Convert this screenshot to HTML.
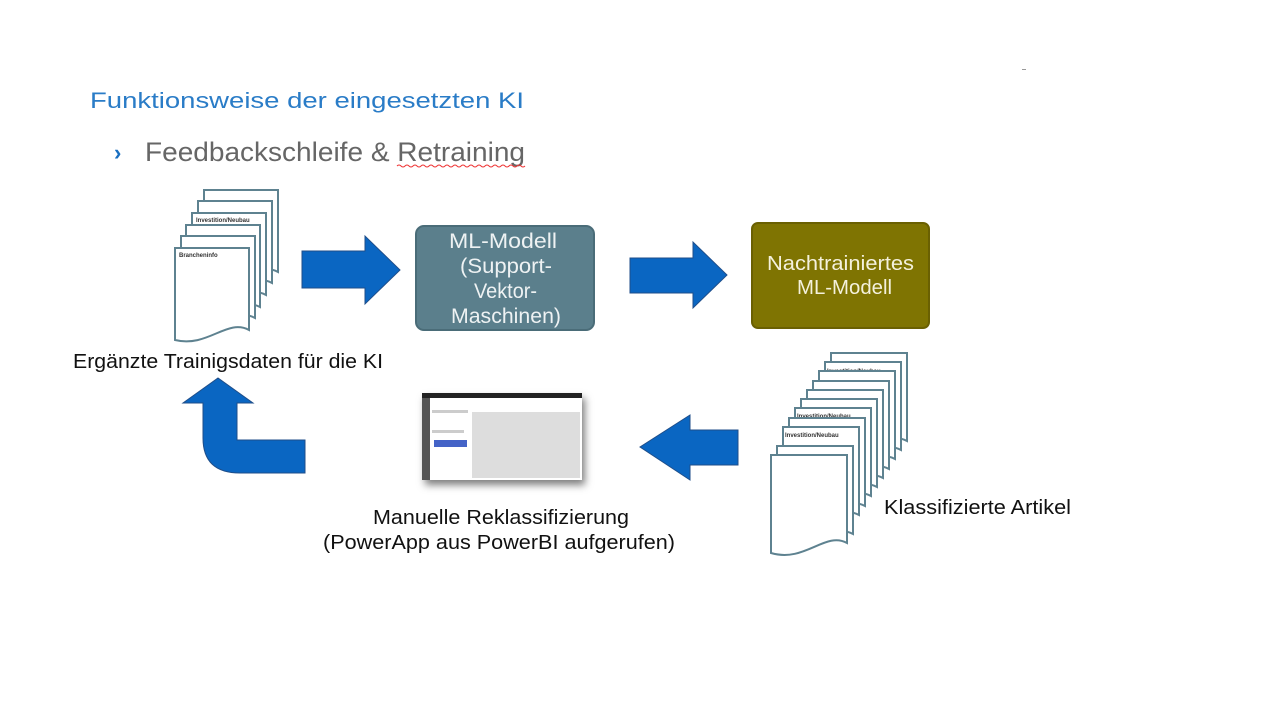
<!DOCTYPE html>
<html><head><meta charset="utf-8"><style>
html,body{margin:0;padding:0;background:#fff;}
svg{display:block;font-family:"Liberation Sans","DejaVu Sans",sans-serif;}
</style></head><body>
<svg width="1280" height="720" viewBox="0 0 1280 720" xmlns="http://www.w3.org/2000/svg">
<defs>
<path id="pgL" d="M0,0 H74 V82 C52,70 33,100 0,92 Z" fill="#fff" stroke="#5e8290" stroke-width="2"/>
<path id="pgR" d="M0,0 H76 V88 C54,76 34,108 0,98 Z" fill="#fff" stroke="#5e8290" stroke-width="2"/>
<filter id="sh" x="-10%" y="-10%" width="125%" height="130%"><feDropShadow dx="3" dy="5" stdDeviation="4" flood-color="#000" flood-opacity="0.5"/></filter>
</defs>
<text x="90" y="108" font-size="22" fill="#2a7cc7" textLength="434" lengthAdjust="spacingAndGlyphs">Funktionsweise der eingesetzten KI</text>
<text x="114" y="160" font-size="22" fill="#1a6fc0" font-weight="bold">›</text>
<text x="145" y="161" font-size="27" fill="#666" textLength="380" lengthAdjust="spacingAndGlyphs">Feedbackschleife &amp; Retraining</text>
<path d="M397,166 q2,-2 4,0 t4,0 t4,0 t4,0 t4,0 t4,0 t4,0 t4,0 t4,0 t4,0 t4,0 t4,0 t4,0 t4,0 t4,0 t4,0 t4,0 t4,0 t4,0 t4,0 t4,0 t4,0 t4,0 t4,0 t4,0 t4,0 t4,0 t4,0 t4,0 t4,0 t4,0 t4,0" fill="none" stroke="#e33" stroke-width="1"/>
<rect x="1022" y="69" width="4" height="1" fill="#999"/>
<!-- left stack -->
<use href="#pgL" x="204" y="190"/>
<use href="#pgL" x="198" y="201"/>
<use href="#pgL" x="192" y="213"/>
<text x="196" y="222" font-size="6" font-weight="bold" fill="#333">Investition/Neubau</text>
<use href="#pgL" x="186" y="225"/>
<use href="#pgL" x="181" y="236"/>
<use href="#pgL" x="175" y="248"/>
<text x="179" y="257" font-size="6" font-weight="bold" fill="#333">Brancheninfo</text>
<text x="73" y="368" font-size="20" fill="#111" textLength="310" lengthAdjust="spacingAndGlyphs">Ergänzte Trainigsdaten für die KI</text>
<!-- arrows -->
<polygon points="302,251 365,251 365,236 400,270 365,304 365,288 302,288" fill="#0a66c2" stroke="#1f4e8a" stroke-width="1"/>
<rect x="416" y="226" width="178" height="104" rx="8" fill="#5b7f8c" stroke="#4a6c78" stroke-width="2"/>
<g font-size="21" fill="#eef2f3">
<text x="449" y="248" textLength="108" lengthAdjust="spacingAndGlyphs">ML-Modell</text>
<text x="460" y="273" textLength="92" lengthAdjust="spacingAndGlyphs">(Support-</text>
<text x="474" y="298" textLength="63" lengthAdjust="spacingAndGlyphs">Vektor-</text>
<text x="451" y="323" textLength="110" lengthAdjust="spacingAndGlyphs">Maschinen)</text></g>
<polygon points="630,258 693,258 693,242 727,275 693,308 693,293 630,293" fill="#0a66c2" stroke="#1f4e8a" stroke-width="1"/>
<rect x="752" y="223" width="177" height="105" rx="6" fill="#7f7402" stroke="#6a6002" stroke-width="2"/>
<g font-size="20" fill="#f4f1dc"><text x="767" y="270" textLength="147" lengthAdjust="spacingAndGlyphs">Nachtrainiertes</text><text x="797" y="294" textLength="95" lengthAdjust="spacingAndGlyphs">ML-Modell</text></g>
<polygon points="738,430 690,430 690,415 640,447 690,480 690,465 738,465" fill="#0a66c2" stroke="#1f4e8a" stroke-width="1"/>
<path d="M305,440 H237 V403 H253 L218,378 L183,403 H203 V438 Q203,473 240,473 H305 Z" fill="#0a66c2" stroke="#1f4e8a" stroke-width="1"/>
<!-- screenshot -->
<g filter="url(#sh)">
<rect x="422" y="393" width="160" height="87" fill="#fff"/>
</g>
<rect x="422" y="393" width="160" height="5" fill="#222"/>
<rect x="422" y="398" width="8" height="82" fill="#555"/>
<rect x="472" y="412" width="108" height="66" fill="#ddd"/>
<rect x="432" y="410" width="36" height="3" fill="#ccc"/>
<rect x="432" y="430" width="32" height="3" fill="#ccc"/>
<rect x="434" y="440" width="33" height="7" fill="#4463c7"/>
<text x="373" y="524" font-size="20" fill="#111" textLength="256" lengthAdjust="spacingAndGlyphs">Manuelle Reklassifizierung</text>
<text x="323" y="549" font-size="20" fill="#111" textLength="352" lengthAdjust="spacingAndGlyphs">(PowerApp aus PowerBI aufgerufen)</text>
<!-- right stack -->
<use href="#pgR" x="831" y="353"/>
<use href="#pgR" x="825" y="362"/>
<text x="827" y="373" font-size="6" font-weight="bold" fill="#333">Investition/Neubau</text>
<use href="#pgR" x="819" y="371"/>
<use href="#pgR" x="813" y="381"/>
<use href="#pgR" x="807" y="390"/>
<use href="#pgR" x="801" y="399"/>
<use href="#pgR" x="795" y="408"/>
<text x="797" y="418" font-size="6" font-weight="bold" fill="#333">Investition/Neubau</text>
<use href="#pgR" x="789" y="418"/>
<use href="#pgR" x="783" y="427"/>
<text x="785" y="437" font-size="6" font-weight="bold" fill="#333">Investition/Neubau</text>
<use href="#pgR" x="777" y="446"/>
<use href="#pgR" x="771" y="455"/>
<text x="884" y="514" font-size="20" fill="#111" textLength="187" lengthAdjust="spacingAndGlyphs">Klassifizierte Artikel</text>
</svg>
</body></html>
